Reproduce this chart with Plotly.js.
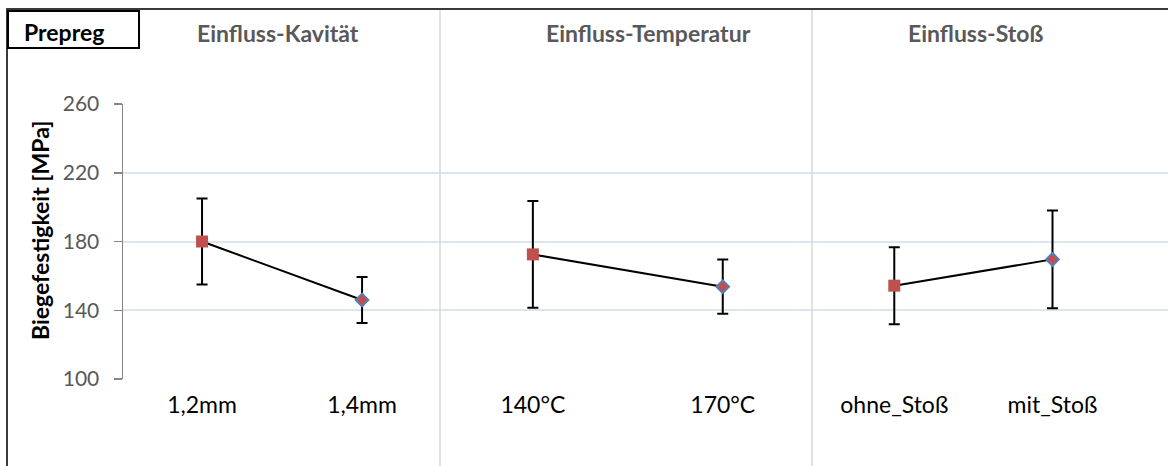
<!DOCTYPE html>
<html>
<head>
<meta charset="utf-8">
<script src="https://cdn.plot.ly/plotly-3.0.1.min.js"></script>
<style>html,body{margin:0;padding:0;background:#fff;}#chart{width:1168px;height:466px;}</style>
</head>
<body>
<div id="chart"></div>
<script>
// ---- data ----
const catKavitaet = ['1,2mm', '1,4mm'];
const catTemperatur = ['140°C', '170°C'];
const catStoss = ['ohne_Stoß', 'mit_Stoß'];

const valKavitaet = [180, 146];
const valTemperatur = [172.5, 153.7];
const valStoss = [154.3, 169.6];

const errKavitaet = [25, 13.4];
const errTemperatur = [31, 15.8];
const errStoss = [22.4, 28.5];

const panelTitles = ['Einfluss-Kavität', 'Einfluss-Temperatur', 'Einfluss-Stoß'];
const yTicks = [100, 140, 180, 220, 260];

// ---- styling ----
const FONT = 'Lato, "Open Sans", sans-serif';
const RED = '#c0504d', BLUE = '#4f81bd';

function panelTrace(cats, vals, errs, xa) {
  return {
    type: 'scatter', mode: 'lines+markers',
    x: cats, y: vals, xaxis: xa, yaxis: 'y',
    line: {color: '#000000', width: 2},
    marker: {
      symbol: ['square', 'diamond'],
      size: [12, 10],
      opacity: 1,
      color: [RED, RED],
      line: {color: [RED, BLUE], width: [0, 1.8]}
    },
    error_y: {type: 'data', array: errs, symmetric: true, color: '#000000', thickness: 2, width: 5.5},
    opacity: 1,
    hoverinfo: 'x+y', showlegend: false, cliponaxis: false
  };
}

const traces = [
  panelTrace(catKavitaet, valKavitaet, errKavitaet, 'x'),
  panelTrace(catTemperatur, valTemperatur, errTemperatur, 'x2'),
  panelTrace(catStoss, valStoss, errStoss, 'x3')
];

const plotW = 1045, L = 123;
const d1 = (440 - L) / plotW, d2 = (812 - L) / plotW;
const yPx = px => (379 - px) / 275;   // pixel row -> paper y
const xPx = px => (px - L) / plotW;  // pixel col -> paper x

function xax(domain, range) {
  return {
    domain: domain, type: 'category', range: range,
    showgrid: false, zeroline: false, showline: false, ticks: '',
    tickfont: {family: FONT, size: 23, color: '#000000'},
    ticklabelstandoff: 10, fixedrange: true
  };
}

const titleFont = {family: FONT, size: 23, color: '#595959', weight: 'bold'};

const layout = {
  width: 1168, height: 466,
  margin: {l: L, r: 0, t: 104, b: 87, pad: 0},
  paper_bgcolor: '#ffffff', plot_bgcolor: '#ffffff',
  showlegend: false,
  xaxis: xax([0, d1], [-0.494, 1.487]),
  xaxis2: xax([d1, d2], [-0.489, 1.47]),
  xaxis3: xax([d2, 1], [-0.52, 1.73]),
  yaxis: {
    range: [100, 260], tickvals: yTicks, ticktext: yTicks.map(String),
    showline: true, linecolor: '#868686', linewidth: 1.5,
    ticks: 'outside', ticklen: 8, tickcolor: '#868686', tickwidth: 1.5,
    showgrid: true, gridcolor: '#dce6f2', gridwidth: 2, zeroline: false,
    tickfont: {family: FONT, size: 21, color: '#595959'},
    ticklabelstandoff: 10, fixedrange: true
  },
  shapes: [
    // panel separators
    {type: 'line', xref: 'paper', yref: 'paper', x0: d1, x1: d1, y0: -0.4, y1: yPx(10), line: {color: '#d9d9d9', width: 1.5}},
    {type: 'line', xref: 'paper', yref: 'paper', x0: d2, x1: d2, y0: -0.4, y1: yPx(10), line: {color: '#d9d9d9', width: 1.5}},
    // outer frame (top & left)
    {type: 'line', xref: 'paper', yref: 'paper', x0: xPx(6), x1: 1.1, y0: yPx(9), y1: yPx(9), line: {color: '#3a3a3a', width: 2}},
    {type: 'line', xref: 'paper', yref: 'paper', x0: xPx(7), x1: xPx(7), y0: -0.4, y1: yPx(9), line: {color: '#3a3a3a', width: 2}},
    // Prepreg box
    {type: 'rect', xref: 'paper', yref: 'paper', x0: xPx(8), x1: xPx(139), y0: yPx(48), y1: yPx(11), line: {color: '#000000', width: 2}, fillcolor: 'rgba(0,0,0,0)'}
  ],
  annotations: [
    {text: 'Prepreg', xref: 'paper', yref: 'paper', x: xPx(64), y: yPx(32), showarrow: false,
     font: {family: FONT, size: 23, color: '#000000', weight: 'bold'}, xanchor: 'center', yanchor: 'middle'},
    {text: panelTitles[0], xref: 'paper', yref: 'paper', x: xPx(278), y: yPx(33), showarrow: false, font: titleFont, xanchor: 'center', yanchor: 'middle'},
    {text: panelTitles[1], xref: 'paper', yref: 'paper', x: xPx(648), y: yPx(33), showarrow: false, font: titleFont, xanchor: 'center', yanchor: 'middle'},
    {text: panelTitles[2], xref: 'paper', yref: 'paper', x: xPx(975), y: yPx(33), showarrow: false, font: titleFont, xanchor: 'center', yanchor: 'middle'},
    {text: 'Biegefestigkeit [MPa]', xref: 'paper', yref: 'paper', x: xPx(40), y: yPx(231), showarrow: false,
     textangle: -90, font: {family: FONT, size: 23, color: '#000000', weight: 'bold'}, xanchor: 'center', yanchor: 'middle'}
  ]
};

Plotly.newPlot('chart', traces, layout, {displayModeBar: false, staticPlot: true});
</script>
</body>
</html>
